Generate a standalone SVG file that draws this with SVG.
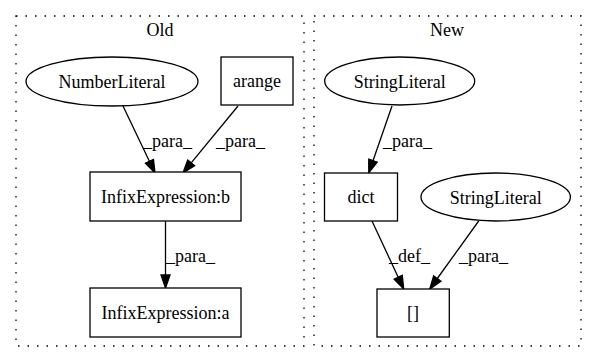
<svg xmlns="http://www.w3.org/2000/svg" width="597" height="364" viewBox="0 0 597 364">
  <style>
    text { font-family: "Liberation Serif", "Times New Roman", serif; font-size: 18px; fill: #000; }
    .c { text-anchor: middle; }
    .cluster { fill: none; stroke: #000; stroke-width: 1.3; stroke-dasharray: 1.5 8; }
    .node { fill: #fff; stroke: #000; stroke-width: 1.3; }
    .edge { fill: none; stroke: #000; stroke-width: 1.3; }
  </style>
  <defs>
    <marker id="arrow" markerUnits="userSpaceOnUse" markerWidth="16" markerHeight="12" refX="0" refY="5" orient="auto" viewBox="-1 0 16 10">
      <path d="M0,0.5 L13,5 L0,9.5 z" fill="#000" stroke="#000" stroke-width="1.3"/>
    </marker>
  </defs>
  <rect width="597" height="364" fill="#fff"/>

  <!-- clusters -->
  <g id="cluster_old">
    <rect class="cluster" x="16" y="16" width="288" height="330"/>
    <text class="c" x="160" y="36">Old</text>
  </g>
  <g id="cluster_new">
    <rect class="cluster" x="314" y="16" width="267" height="330"/>
    <text class="c" x="447" y="36">New</text>
  </g>

  <!-- connectors -->
  <g id="edges">
    <path class="edge" d="M123,106 L149.4,161.3" marker-end="url(#arrow)"/>
    <text x="143" y="147">_para_</text>
    <path class="edge" d="M238,106 L191.2,162.9" marker-end="url(#arrow)"/>
    <text x="216" y="147">_para_</text>
    <path class="edge" d="M165.5,221 L165.5,275" marker-end="url(#arrow)"/>
    <text x="166" y="262">_para_</text>
    <path class="edge" d="M392,106 L373,160.7" marker-end="url(#arrow)"/>
    <text x="383" y="147">_para_</text>
    <path class="edge" d="M372,221 L398.2,277.2" marker-end="url(#arrow)"/>
    <text x="389" y="262">_def_</text>
    <path class="edge" d="M478.7,221 L437.3,278.5" marker-end="url(#arrow)"/>
    <text x="459" y="262">_para_</text>
  </g>

  <!-- nodes -->
  <g id="number_literal">
    <ellipse class="node" cx="112" cy="81.5" rx="86" ry="24.5"/>
    <text class="c" x="112" y="88">NumberLiteral</text>
  </g>
  <g id="arange">
    <rect class="node" x="221" y="57" width="72" height="48"/>
    <text class="c" x="257" y="87">arange</text>
  </g>
  <g id="infix_b">
    <rect class="node" x="90" y="172" width="151" height="49"/>
    <text class="c" x="165.5" y="203">InfixExpression:b</text>
  </g>
  <g id="infix_a">
    <rect class="node" x="90" y="288" width="151" height="49"/>
    <text class="c" x="165.5" y="319">InfixExpression:a</text>
  </g>
  <g id="string_literal_1">
    <ellipse class="node" cx="399.7" cy="81" rx="75" ry="24"/>
    <text class="c" x="399.7" y="87.5">StringLiteral</text>
  </g>
  <g id="dict">
    <rect class="node" x="324.5" y="173" width="73" height="48"/>
    <text class="c" x="361" y="203">dict</text>
  </g>
  <g id="string_literal_2">
    <ellipse class="node" cx="495.7" cy="197" rx="74.7" ry="24"/>
    <text class="c" x="495.7" y="203.5">StringLiteral</text>
  </g>
  <g id="subscript">
    <rect class="node" x="377" y="289" width="72.3" height="48"/>
    <text class="c" x="413" y="319">[]</text>
  </g>
</svg>
